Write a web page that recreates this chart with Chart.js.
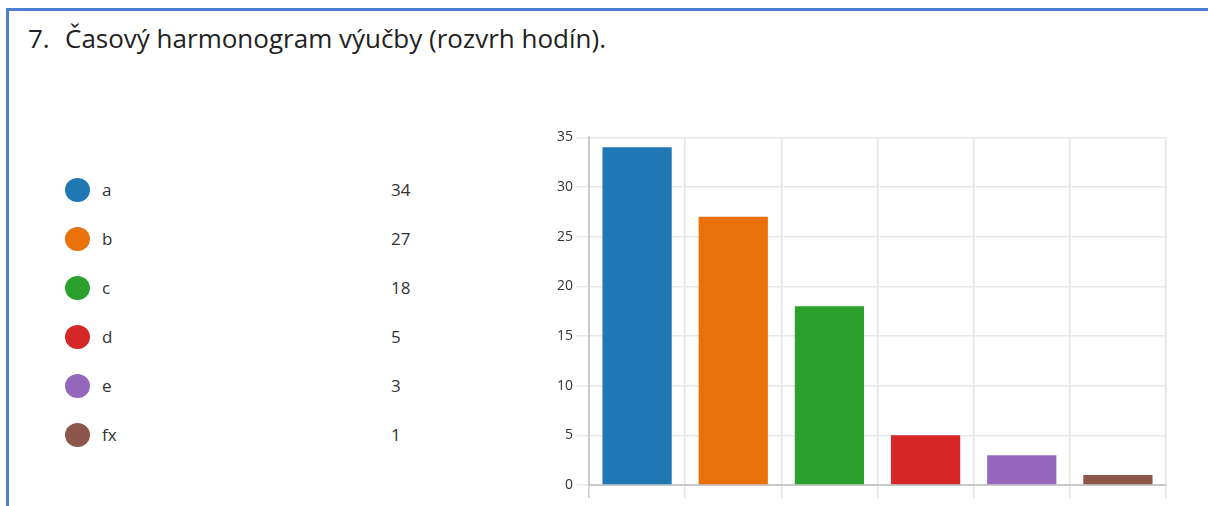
<!DOCTYPE html>
<html>
<head>
<meta charset="utf-8">
<script src="https://cdn.jsdelivr.net/npm/chart.js@4"></script>
<style>
  html, body { margin:0; padding:0; width:1208px; height:506px; overflow:hidden; background:#fff; font-family:"Open Sans","Noto Sans",sans-serif; }
  #frame { position:absolute; left:6px; top:8px; width:1202px; height:498px; border-top:3px solid #4f7fd0; border-left:3px solid #4f7fd0; box-sizing:border-box; }
  #title { position:absolute; left:28px; top:25px; font-size:26px; line-height:26px; color:#222; white-space:nowrap; }
  #title .num { display:inline-block; width:37px; }
  .row { position:absolute; left:65px; height:26px; font-size:17px; color:#333; }
  .dot { position:absolute; left:0; top:0; width:25px; height:24px; border-radius:50%; }
  .lab { position:absolute; left:37px; top:0px; }
  .val { position:absolute; left:326px; top:0px; }
  #wrap { position:absolute; left:540px; top:126px; width:636px; height:380px; }
</style>
</head>
<body>
<div id="frame"></div>
<div id="title"><span class="num">7.</span>Časový harmonogram výučby (rozvrh hodín).</div>
<div id="legend"></div>
<div id="wrap"><canvas id="c"></canvas></div>
<script>
const categories = ['a', 'b', 'c', 'd', 'e', 'fx'];
const counts = [34, 27, 18, 5, 3, 1];
const colors = ['#1f77b4', '#e8710a', '#2ca02c', '#d62728', '#9467bd', '#8c564b'];
const yTicks = [0, 5, 10, 15, 20, 25, 30, 35];

const legend = document.getElementById('legend');
categories.forEach((cat, i) => {
  const row = document.createElement('div');
  row.className = 'row';
  row.style.top = (178 + i * 49) + 'px';
  row.innerHTML = '<div class="dot" style="background:' + colors[i] + '"></div><span class="lab">' + cat + '</span><span class="val">' + counts[i] + '</span>';
  legend.appendChild(row);
});

new Chart(document.getElementById('c'), {
  type: 'bar',
  data: {
    labels: categories,
    datasets: [{ data: counts, backgroundColor: colors, barPercentage: 0.72, categoryPercentage: 1 }]
  },
  options: {
    responsive: true,
    maintainAspectRatio: false,
    animation: false,
    layout: { padding: { top: 10, right: 10, left: 0, bottom: 0 } },
    plugins: { legend: { display: false }, tooltip: { enabled: false } },
    scales: {
      x: {
        grid: {
          offset: true,
          color: ctx => ctx.index === categories.length ? 'rgba(0,0,0,0)' : (ctx.index === 0 ? '#c8c8c8' : '#e4e4e4'),
          lineWidth: 1.5,
          tickLength: 13
        },
        border: { color: '#c8c8c8', width: 2 },
        ticks: { callback: () => '' },
        afterFit: s => { s.height = 21; }
      },
      y: {
        min: 0, max: 35,
        afterBuildTicks: s => { s.ticks = yTicks.map(v => ({ value: v })); },
        grid: { color: '#e8e8e8', lineWidth: 1.5, tickLength: 13 },
        border: { color: '#c8c8c8', width: 2 },
        ticks: { color: '#333', font: { size: 14, family: '"Open Sans","Noto Sans",sans-serif' }, padding: 3 },
        afterFit: s => { s.width = 49; }
      }
    }
  }
});
</script>
</body>
</html>
